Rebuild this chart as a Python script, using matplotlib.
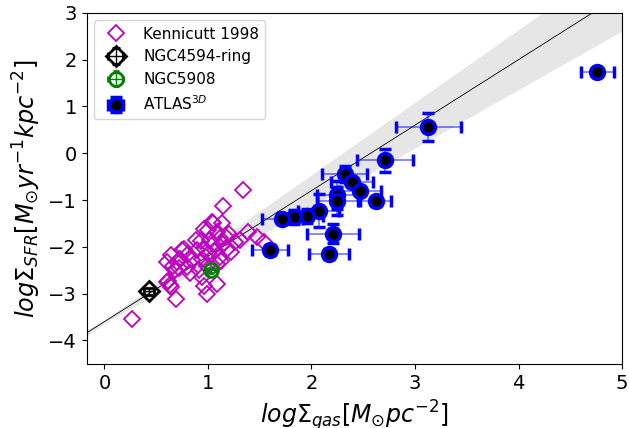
import numpy as np
import matplotlib
matplotlib.use('Agg')
import matplotlib.pyplot as plt

# Kennicutt 1998 normal spirals (log gas, log SFR)
ken_x = [0.27, 0.60, 0.64, 0.69, 0.61, 0.63, 0.68, 0.60, 0.64, 0.70, 0.75, 0.73,
         0.77, 0.80, 0.83, 0.85, 0.88, 0.89, 0.91, 0.93, 0.94, 0.94, 0.96, 0.96,
         0.97, 0.99, 0.99, 1.00, 1.02, 1.04, 1.05, 1.07, 1.09, 1.09, 1.09, 1.12,
         1.12, 1.14, 1.15, 1.15, 1.18, 1.20, 1.22, 1.26, 1.31, 1.34, 1.39, 1.47,
         1.54, 1.00, 1.05, 1.13, 0.81, 0.72, 0.66, 1.17]
ken_y = [-3.54, -2.75, -2.86, -3.11, -2.72, -2.81, -2.50, -2.33, -2.18, -2.33, -2.07, -2.25,
         -2.04, -2.43, -2.57, -2.28, -1.86, -2.07, -2.50, -1.88, -2.26, -2.65, -1.62, -2.83,
         -2.04, -2.40, -3.00, -1.65, -1.86, -1.47, -1.50, -2.07, -1.68, -2.36, -2.79, -1.82,
         -2.22, -1.50, -1.13, -1.95, -2.04, -1.72, -2.11, -1.90, -1.86, -0.79, -1.68, -1.79,
         -1.90, -2.15, -1.95, -2.30, -2.15, -2.45, -2.40, -1.80]

# NGC4594 ring and NGC5908
ring_x, ring_y, ring_xerr, ring_yerr = [0.43], [-2.95], [0.05], [0.07]
n5908_x, n5908_y, n5908_xerr, n5908_yerr = [1.03], [-2.50], [0.04], [0.05]

# ATLAS3D galaxies
atlas_x = [4.76, 3.13, 2.71, 2.32, 2.39, 2.47, 2.25, 2.25, 2.62, 2.07, 1.96, 1.83,
           1.72, 2.21, 1.60, 2.17]
atlas_y = [1.74, 0.56, -0.15, -0.44, -0.62, -0.80, -0.90, -1.03, -1.03, -1.23, -1.35, -1.37,
           -1.40, -1.72, -2.07, -2.15]
atlas_xerr = [0.16, 0.31, 0.27, 0.22, 0.20, 0.20, 0.20, 0.20, 0.15, 0.20, 0.15, 0.15,
              0.20, 0.25, 0.17, 0.19]
atlas_yerr = [0.05, 0.30, 0.25, 0.17, 0.10, 0.10, 0.30, 0.30, 0.10, 0.35, 0.15, 0.15,
              0.10, 0.20, 0.10, 0.10]

# Kennicutt law: log SFR = (1.4 +- 0.15) log gas + (-3.6 +- 0.04)
slope, dslope, icpt, dicpt = 1.4, 0.15, -3.6, 0.04

fig = plt.figure(figsize=(6.29, 4.28), dpi=100)
ax = fig.add_axes([0.138, 0.150, 0.851, 0.820])

xx = np.linspace(-0.2, 5.0, 200)
combos = np.array([(slope + s * dslope) * xx + icpt + i * dicpt
                   for s in (-1, 1) for i in (-1, 1)])
ax.fill_between(xx, combos.min(axis=0), combos.max(axis=0), color='0.9', lw=0, zorder=0)
ax.plot(xx, slope * xx + icpt, color='k', lw=0.6, zorder=1)

ax.plot(ken_x, ken_y, 'D', mfc='none', mec='m', ms=8, mew=1.3,
        label='Kennicutt 1998', zorder=2)
ax.errorbar(ring_x, ring_y, xerr=ring_xerr, yerr=ring_yerr, fmt='D', mfc='none',
            mec='k', ms=10, mew=2, ecolor='k', elinewidth=1, capsize=3,
            label='NGC4594-ring', zorder=3)
ax.errorbar(n5908_x, n5908_y, xerr=n5908_xerr, yerr=n5908_yerr, fmt='o', mfc='none',
            mec='g', ms=10, mew=2, ecolor='g', elinewidth=1, capsize=2,
            label='NGC5908', zorder=3)
eb = ax.errorbar(atlas_x, atlas_y, xerr=atlas_xerr, yerr=atlas_yerr, fmt='o', mfc='k',
                 mec='b', ms=10, mew=2.5, ecolor='b', elinewidth=1.2, capsize=4, capthick=2,
                 label='ATLAS$^{3D}$', zorder=4)
for bl in eb[2]:
    bl.set_alpha(0.55)

ax.set_xlim(-0.17, 5.0)
ax.set_ylim(-4.5, 3.0)
ax.tick_params(labelsize=14)
ax.set_xlabel(r'$log\Sigma_{gas}[M_{\odot}pc^{-2}]$', fontsize=17)
ax.set_ylabel(r'$log\Sigma_{SFR}[M_{\odot}yr^{-1}kpc^{-2}]$', fontsize=17.3)
ax.legend(loc='upper left', fontsize=11)

fig.savefig('out.png', dpi=100)
